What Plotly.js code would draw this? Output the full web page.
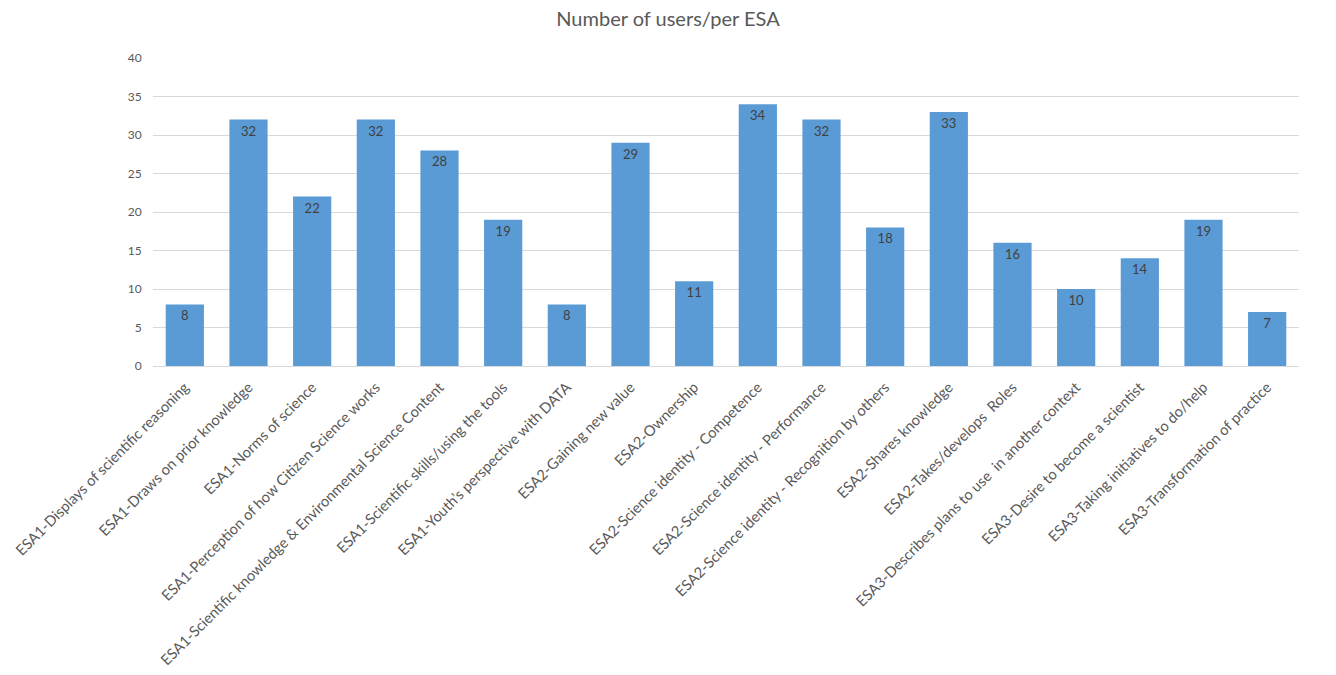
<!DOCTYPE html>
<html><head><meta charset="utf-8">
<script src="https://cdn.plot.ly/plotly-3.0.1.min.js"></script>
<style>body{margin:0;background:#fff}#chart{width:1336px;height:675px}</style>
</head><body><div id="chart"></div>
<script>
const categories = [
  "ESA1-Displays of scientific reasoning",
  "ESA1-Draws on prior knowledge",
  "ESA1-Norms of science",
  "ESA1-Perception of how Citizen Science works",
  "ESA1-Scientific knowledge & Environmental Science Content",
  "ESA1-Scientific skills/using the tools",
  "ESA1-Youth’s perspective with DATA",
  "ESA2-Gaining new value",
  "ESA2-Ownership",
  "ESA2-Science identity - Competence",
  "ESA2-Science identity - Performance",
  "ESA2-Science identity - Recognition by others",
  "ESA2-Shares knowledge",
  "ESA2-Takes/develops  Roles",
  "ESA3-Describes plans to use  in another context",
  "ESA3-Desire to become a scientist",
  "ESA3-Taking initiatives to do/help",
  "ESA3-Transformation of practice"
];
const users = [8, 32, 22, 32, 28, 19, 8, 29, 11, 34, 32, 18, 33, 16, 10, 14, 19, 7];
const yTicks = [0, 5, 10, 15, 20, 25, 30, 35, 40];

const trace = {
  type: 'bar',
  x: categories,
  y: users,
  text: users.map(String),
  textposition: 'inside',
  insidetextanchor: 'end',
  constraintext: 'none',
  textfont: {family: 'Lato, "Open Sans", sans-serif', size: 13, color: '#404040'},
  marker: {color: '#5B9BD5'},
  hoverinfo: 'x+y'
};

const layout = {
  width: 1336, height: 675,
  margin: {l: 153, r: 37, t: 58, b: 309},
  paper_bgcolor: '#fff', plot_bgcolor: '#fff',
  bargap: 0.4,
  showlegend: false,
  title: {text: 'Number of users/per ESA', x: 0.5, xanchor: 'center', y: 0.972, yanchor: 'middle',
          font: {family: 'Lato, "Open Sans", sans-serif', size: 20, color: '#595959'}},
  xaxis: {
    type: 'category', tickangle: -45, automargin: false,
    tickfont: {family: 'Lato, "Open Sans", sans-serif', size: 14.7, color: '#595959'},
    showline: true, linecolor: '#d9d9d9', linewidth: 1,
    ticks: 'outside', ticklen: 6, tickcolor: 'rgba(0,0,0,0)',
    showgrid: false
  },
  yaxis: {
    range: [0, 40], tickvals: yTicks, ticktext: yTicks.map(String),
    tickfont: {family: 'Lato, "Open Sans", sans-serif', size: 12, color: '#595959'},
    showgrid: true, gridcolor: '#d9d9d9', gridwidth: 1,
    zeroline: false, showline: false, ticks: 'outside', ticklen: 8, tickcolor: 'rgba(0,0,0,0)'
  }
};

Plotly.newPlot('chart', [trace], layout, {displayModeBar: false});
</script></body></html>
